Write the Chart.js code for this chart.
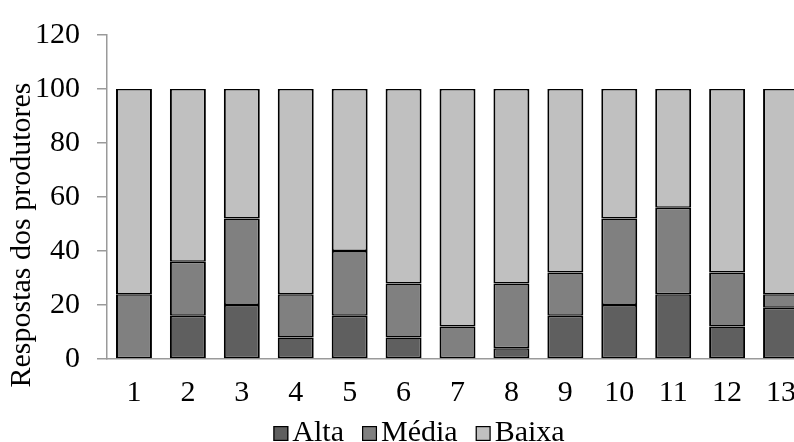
<!DOCTYPE html>
<html>
<head>
<meta charset="utf-8">
<script src="https://cdn.jsdelivr.net/npm/chart.js@4/dist/chart.umd.min.js"></script>
<style>
  html, body { margin: 0; padding: 0; background: #ffffff; overflow: hidden; width: 794px; height: 442px; }
  #wrap { position: absolute; left: 0; top: 0; width: 816px; height: 442px; }
</style>
</head>
<body>
<div id="wrap"><canvas id="chart" width="816" height="442"></canvas></div>
<script>
// Categories (producers' items 1-13)
const categories = ['1', '2', '3', '4', '5', '6', '7', '8', '9', '10', '11', '12', '13'];

// Share of answers per level (%)
const alta  = [0, 16, 20, 8, 16, 8, 0, 4, 16, 20, 24, 12, 19];
const media = [24, 20, 32, 16, 24, 20, 12, 24, 16, 32, 32, 20, 5];
const baixa = [76, 64, 48, 76, 60, 72, 88, 72, 68, 48, 44, 68, 76];

const seriesNames = ['Alta', 'Média', 'Baixa'];
const seriesColors = ['#5f5f5f', '#808080', '#c0c0c0'];
const yTicks = [0, 20, 40, 60, 80, 100, 120];
const yTitle = 'Respostas dos produtores';

const FONT = '"Liberation Serif", "Times New Roman", serif';
const TICK_SIZE = 30;
const TITLE_SIZE = 30;
const AXIS_GREY = '#9a9a9a';

// Rotated y-axis title and the legend row, drawn after the chart
const annotations = {
  id: 'annotations',
  afterDraw(chart) {
    const ctx = chart.ctx;
    ctx.save();
    ctx.fillStyle = '#000';

    // y-axis title
    ctx.save();
    ctx.font = TITLE_SIZE + 'px ' + FONT;
    ctx.translate(30, 235);
    ctx.rotate(-Math.PI / 2);
    ctx.textAlign = 'center';
    ctx.textBaseline = 'alphabetic';
    ctx.fillText(yTitle, 0, 0);
    ctx.restore();

    // legend
    ctx.font = TICK_SIZE + 'px ' + FONT;
    const box = 15, gapBoxText = 4, gapItems = 18;
    const widths = seriesNames.map(n => ctx.measureText(n).width);
    const total = widths.reduce((s, w) => s + box + gapBoxText + w, 0) + gapItems * (seriesNames.length - 1);
    let x = 419 - total / 2;
    const baseline = 441;
    ctx.textAlign = 'left';
    ctx.textBaseline = 'alphabetic';
    seriesNames.forEach((name, i) => {
      ctx.fillStyle = seriesColors[i];
      ctx.fillRect(x, baseline - box, box, box);
      ctx.strokeStyle = '#000';
      ctx.lineWidth = 1.2;
      ctx.strokeRect(x + 0.6, baseline - box + 0.6, box - 1.2, box - 1.2);
      ctx.fillStyle = '#000';
      ctx.fillText(name, x + box + gapBoxText, baseline);
      x += box + gapBoxText + widths[i] + gapItems;
    });
    ctx.restore();
  }
};

const datasets = [alta, media, baixa].map((values, i) => ({
  label: seriesNames[i],
  data: values,
  backgroundColor: seriesColors[i],
  borderColor: '#000000',
  borderWidth: { top: 1.5, bottom: 1.5, left: 2, right: 2 },
  borderSkipped: false,
  categoryPercentage: 1.0,
  barPercentage: 0.667
}));

new Chart(document.getElementById('chart'), {
  type: 'bar',
  data: { labels: categories, datasets },
  options: {
    responsive: false,
    animation: false,
    devicePixelRatio: 1,
    layout: { padding: { left: 0, right: 8, top: 28, bottom: 0 } },
    plugins: {
      legend: { display: false },
      tooltip: { enabled: false },
      title: { display: false }
    },
    scales: {
      x: {
        stacked: true,
        grid: { display: false, drawTicks: false },
        border: { display: true, color: AXIS_GREY, width: 1.5 },
        ticks: {
          color: '#000',
          font: { family: FONT, size: TICK_SIZE },
          padding: 16,
          maxRotation: 0,
          autoSkip: false
        },
        afterFit(scale) { scale.height = 83; }
      },
      y: {
        stacked: true,
        min: 0,
        max: 120,
        afterBuildTicks(scale) { scale.ticks = yTicks.map(v => ({ value: v })); },
        grid: {
          display: true,
          drawOnChartArea: false,
          drawTicks: true,
          tickLength: 10,
          color: AXIS_GREY,
          lineWidth: 1.5
        },
        border: { display: true, color: AXIS_GREY, width: 1.5 },
        ticks: {
          color: '#000',
          font: { family: FONT, size: TICK_SIZE },
          padding: 17
        },
        afterFit(scale) { scale.width = 107; }
      }
    }
  },
  plugins: [annotations]
});
</script>
</body>
</html>
